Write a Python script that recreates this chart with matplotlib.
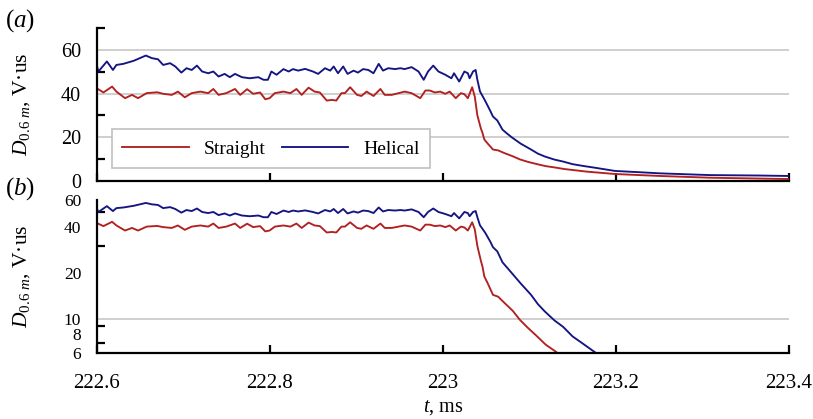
import matplotlib
matplotlib.use("Agg")
import matplotlib.pyplot as plt
from matplotlib.ticker import FixedLocator, FixedFormatter, NullFormatter

plt.rcParams['font.family'] = ['Liberation Serif', 'DejaVu Serif']
plt.rcParams['mathtext.fontset'] = 'custom'
plt.rcParams['mathtext.rm'] = 'Liberation Serif'
plt.rcParams['mathtext.it'] = 'Liberation Serif:italic'

# ---------------- data ----------------
t_straight = [222.600, 222.608, 222.618, 222.623, 222.633, 222.641, 222.648, 222.658,
              222.670, 222.677, 222.687, 222.694, 222.702, 222.710, 222.720, 222.729,
              222.735, 222.741, 222.750, 222.760, 222.766, 222.774, 222.781, 222.789,
              222.795, 222.800, 222.806, 222.816, 222.824, 222.831, 222.837, 222.845,
              222.852, 222.858, 222.866, 222.872, 222.877, 222.883, 222.887, 222.893,
              222.901, 222.906, 222.912, 222.920, 222.928, 222.933, 222.941, 222.949,
              222.956, 222.964, 222.974, 222.980, 222.985, 222.991, 222.997, 223.003,
              223.008, 223.015, 223.021, 223.025, 223.029, 223.034, 223.037, 223.040,
              223.044, 223.046, 223.048, 223.052, 223.058, 223.064, 223.071, 223.081,
              223.089, 223.098, 223.108, 223.119, 223.131, 223.140, 223.166, 223.199,
              223.251, 223.309, 223.399]
d_straight = [42.5, 40.5, 43.2, 40.9, 37.9, 39.4, 37.9, 40.2,
              40.6, 39.9, 39.4, 40.9, 38.3, 40.2, 40.9, 40.2,
              42.1, 39.4, 40.2, 42.1, 39.4, 42.0, 39.9, 40.5,
              37.4, 37.9, 40.2, 40.9, 40.2, 42.1, 39.4, 42.7,
              40.9, 40.5, 36.8, 37.1, 36.8, 40.2, 40.2, 42.9,
              39.4, 38.9, 40.9, 38.9, 42.1, 39.4, 39.4, 40.2,
              40.9, 40.2, 37.9, 41.4, 41.4, 40.5, 40.9, 39.9,
              40.9, 37.9, 40.2, 39.7, 37.9, 42.9, 38.6, 30.0,
              24.1, 21.9, 19.0, 17.1, 14.4, 14.0, 12.8, 11.3,
              9.9, 8.8, 7.8, 6.8, 6.1, 5.5, 4.3, 3.2,
              2.3, 1.5, 0.9]

t_helical = [222.600, 222.602, 222.612, 222.619, 222.623, 222.631, 222.643, 222.657,
             222.664, 222.671, 222.677, 222.685, 222.691, 222.698, 222.704, 222.710,
             222.716, 222.722, 222.729, 222.735, 222.741, 222.748, 222.754, 222.760,
             222.768, 222.777, 222.787, 222.793, 222.798, 222.802, 222.808, 222.816,
             222.822, 222.827, 222.833, 222.841, 222.850, 222.856, 222.864, 222.870,
             222.874, 222.879, 222.885, 222.890, 222.897, 222.902, 222.908, 222.914,
             222.920, 222.926, 222.931, 222.937, 222.945, 222.951, 222.956, 222.964,
             222.972, 222.978, 222.983, 222.989, 222.995, 223.003, 223.010, 223.013,
             223.019, 223.025, 223.029, 223.031, 223.035, 223.038, 223.040, 223.043,
             223.049, 223.055, 223.058, 223.063, 223.069, 223.074, 223.080, 223.090,
             223.102, 223.110, 223.118, 223.129, 223.139, 223.150, 223.162, 223.177,
             223.199, 223.228, 223.251, 223.309, 223.367, 223.399]
d_helical = [53.9, 50.0, 54.7, 50.8, 53.1, 53.6, 55.0, 57.4,
             56.2, 55.7, 53.1, 53.9, 52.4, 49.6, 51.6, 50.8,
             52.8, 50.1, 49.3, 50.1, 47.8, 49.0, 47.5, 49.0,
             47.5, 47.0, 47.5, 46.3, 46.3, 50.1, 48.6, 51.2,
             50.1, 51.2, 50.5, 51.3, 50.1, 49.0, 51.6, 50.5,
             52.4, 49.3, 52.4, 49.0, 50.5, 49.6, 51.2, 50.8,
             49.3, 53.6, 50.5, 51.6, 51.2, 51.6, 51.2, 52.1,
             50.1, 46.3, 50.1, 52.8, 50.1, 48.6, 47.0, 49.3,
             45.5, 50.1, 49.3, 47.0, 50.1, 50.8, 46.3, 41.0,
             36.7, 32.0, 29.5, 27.7, 23.5, 21.8, 19.9, 17.1,
             14.4, 12.5, 11.2, 9.8, 8.9, 7.7, 6.9, 6.0,
             4.6, 4.0, 3.5, 2.7, 2.5, 2.3]

labels = ['Straight', 'Helical']
colors = ['#B22020', '#141482']

x_ticks = [222.6, 222.8, 223.0, 223.2, 223.4]
x_tick_labels = ['222.6', '222.8', '223', '223.2', '223.4']
top_y_major = [0, 20, 40, 60]
top_y_minor = [10, 30, 50, 70]
bot_y_labels_pos = [6, 8, 10, 20, 40, 60]
bot_y_minor = [7, 8, 9, 20, 30, 40, 50, 60]

# ---------------- figure ----------------
fig = plt.figure(figsize=(8.13, 4.19), dpi=100)
W, H = 813.0, 419.0
left = 96.5 / W
width = 692.5 / W
ax1 = fig.add_axes([left, 1 - 181 / H, width, 153 / H])
ax2 = fig.add_axes([left, 1 - 353 / H, width, 153 / H])

grid_col = '#cccccc'
ylab = r'$D_{0.6\ m}$, V·us'

for ax in (ax1, ax2):
    ax.plot(t_straight, d_straight, color=colors[0], lw=1.35, label=labels[0])
    ax.plot(t_helical, d_helical, color=colors[1], lw=1.35, label=labels[1])
    ax.set_xlim(222.6, 223.4)
    for s in ('top', 'right'):
        ax.spines[s].set_visible(False)
    for s in ('left', 'bottom'):
        ax.spines[s].set_linewidth(1.6)
        ax.spines[s].set_color('black')
    ax.xaxis.set_major_locator(FixedLocator(x_ticks))
    ax.tick_params(axis='x', which='major', direction='in', length=5.5, width=1.6, pad=15)
    ax.set_axisbelow(True)
    ax.set_ylabel(ylab, fontsize=15.5)
    ax.yaxis.set_label_coords(-0.093, 0.5)

# top panel
ax1.set_ylim(0, 70)
ax1.yaxis.set_major_locator(FixedLocator(top_y_major))
ax1.yaxis.set_minor_locator(FixedLocator(top_y_minor))
ax1.tick_params(axis='y', which='major', length=0, labelsize=14.5, pad=11)
ax1.tick_params(axis='y', which='minor', direction='in', length=6, width=1.6)
ax1.yaxis.grid(True, which='major', color=grid_col, lw=1.3)
ax1.tick_params(axis='x', labelbottom=False)

leg = ax1.legend(loc='lower left', bbox_to_anchor=(0.022, 0.082), ncol=2,
                 frameon=True, fancybox=False, edgecolor='#c0c0c0', framealpha=1,
                 fontsize=14, handlelength=3.4, handletextpad=0.8,
                 columnspacing=0.8, borderpad=0.55, borderaxespad=0)
leg.get_frame().set_linewidth(1.2)

# bottom panel (log)
ax2.set_yscale('log')
ax2.set_ylim(6, 60)
ax2.yaxis.set_major_locator(FixedLocator(bot_y_labels_pos))
ax2.yaxis.set_major_formatter(FixedFormatter([str(v) for v in bot_y_labels_pos]))
ax2.yaxis.set_minor_locator(FixedLocator(bot_y_minor))
ax2.yaxis.set_minor_formatter(NullFormatter())
ax2.tick_params(axis='y', which='major', length=0, labelsize=12.5, pad=11)
ax2.tick_params(axis='y', which='minor', direction='in', length=6, width=1.6)
ax2.axhline(10, color=grid_col, lw=1.3, zorder=0)
ax2.xaxis.set_major_formatter(FixedFormatter(x_tick_labels))
ax2.tick_params(axis='x', labelsize=15)
ax2.set_xlabel(r'$t$, ms', fontsize=14.5, labelpad=4)

fig.text(20.5 / W, 1 - 21 / H, r'$($$a$$)$', fontsize=18, ha='center', va='center')
fig.text(20.5 / W, 1 - 189 / H, r'$($$b$$)$', fontsize=18, ha='center', va='center')

fig.savefig('out.png', dpi=100)
